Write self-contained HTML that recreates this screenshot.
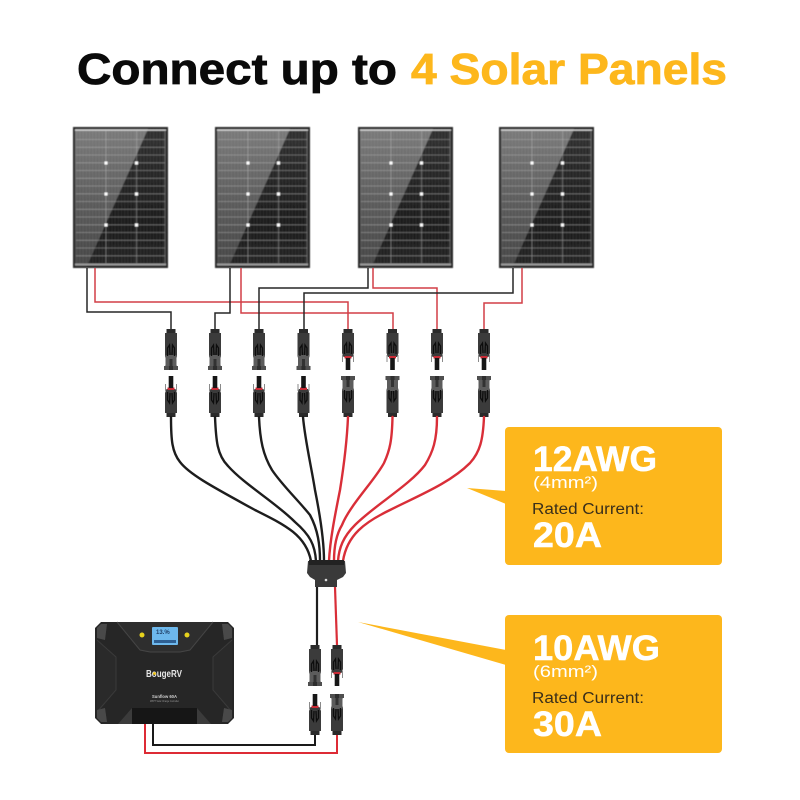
<!DOCTYPE html>
<html>
<head>
<meta charset="utf-8">
<title>Connect up to 4 Solar Panels</title>
<style>
html,body{margin:0;padding:0;background:#fff;}
svg{display:block;}
text{font-family:"Liberation Sans",sans-serif;}
</style>
</head>
<body>
<svg width="800" height="800" viewBox="0 0 800 800" xmlns="http://www.w3.org/2000/svg">
<defs>
  <filter id="soft" x="-5%" y="-5%" width="110%" height="110%"><feGaussianBlur stdDeviation=".45"/></filter>
  <filter id="soft2" x="-20%" y="-5%" width="140%" height="110%"><feGaussianBlur stdDeviation=".35"/></filter>
  <linearGradient id="lite" x1="0" y1="0" x2="0" y2="1">
    <stop offset="0" stop-color="#7a7a7a"/><stop offset=".55" stop-color="#5a5a5a"/><stop offset="1" stop-color="#454545"/>
  </linearGradient>
  <linearGradient id="dark" x1="0" y1="0" x2="0" y2="1">
    <stop offset="0" stop-color="#303030"/><stop offset=".7" stop-color="#1b1b1b"/><stop offset="1" stop-color="#242424"/>
  </linearGradient>
  <pattern id="fine" width="3.200" height="8" patternUnits="userSpaceOnUse">
    <rect x="0" width="1" height="8" fill="#fff" fill-opacity=".07"/>
  </pattern>
  <g id="panel">
    <rect x="0" y="0" width="95" height="141" fill="#2a2a2a"/>
    <rect x="2" y="2" width="91" height="137" fill="url(#dark)"/>
    <polygon points="2,2 75,2 14,139 2,139" fill="url(#lite)"/>
    <rect x="2" y="2" width="91" height="137" fill="url(#fine)"/>
    <g stroke="#bdbdbd" stroke-opacity=".5" stroke-width=".8">
      <path d="M3 12.500H92M3 20.300H92M3 28H92M3 35.800H92M3 43.500H92M3 51.300H92M3 59H92M3 66.800H92M3 74.500H92M3 82.300H92M3 90H92M3 97.800H92M3 105.500H92M3 113.300H92M3 121H92M3 128.800H92"/>
      <path d="M33 4V137M63.500 4V137M92 4V137"/>
    </g>
    <rect x="2" y="2.500" width="91" height="1.300" fill="#d5d5d5"/>
    <rect x="2" y="136.500" width="91" height="2" fill="#9a9a9a"/>
    <g fill="#fff">
      <rect x="31.500" y="34.500" width="3" height="3"/><rect x="62" y="34.500" width="3" height="3"/>
      <rect x="31.500" y="65.500" width="3" height="3"/><rect x="62" y="65.500" width="3" height="3"/>
      <rect x="31.500" y="96.500" width="3" height="3"/><rect x="62" y="96.500" width="3" height="3"/>
    </g>
  </g>
  <g id="connF" filter="url(#soft2)">
    <rect x="-4.500" y="0" width="9" height="5" fill="#2c2c2c"/>
    <path d="M-6 4H6V27L5 31V36L7 38V41H-7V38L-5 36V31L-6 27Z" fill="#3a3a3a"/>
    <path d="M-5.500 26H5.500V37H-5.500Z" fill="#5c5c5c"/>
    <path d="M-3.500 27V19L-1.500 16L-1 26M3.500 27V19L1.500 16L1 26" stroke="#111" stroke-width="1.300" fill="none"/>
    <path d="M-1.500 30V37H1.500V30Z" fill="#333"/>
    <rect x="-7" y="37" width="14" height="4" fill="#505050"/>
    <path d="M-2 37H2V41H-2Z" fill="#2f2f2f"/>
  </g>
  <g id="connM" filter="url(#soft2)">
    <rect x="-4.500" y="0" width="9" height="5" fill="#2c2c2c"/>
    <path d="M-6 4H6V24L4.500 28H-4.500L-6 24Z" fill="#3a3a3a"/>
    <path d="M-3.500 25V17L-1.500 14L-1 24M3.500 25V17L1.500 14L1 24" stroke="#111" stroke-width="1.300" fill="none"/>
    <rect x="-3.500" y="27" width="7" height="2.500" fill="#c92a36"/>
    <rect x="-2.300" y="29" width="4.600" height="12" fill="#151515"/>
    <path d="M-5.500 26V33M5.500 26V33" stroke="#8a8a8a" stroke-width="1"/>
  </g>
</defs>

<rect width="800" height="800" fill="#fff"/>

<!-- Title -->
<text x="77" y="84" font-size="44" font-weight="700" fill="#0a0a0a" stroke="#0a0a0a" stroke-width=".8" textLength="320" lengthAdjust="spacingAndGlyphs">Connect up to</text>
<text x="411" y="84" font-size="44" font-weight="700" fill="#fdb71c" stroke="#fdb71c" stroke-width=".8" textLength="316" lengthAdjust="spacingAndGlyphs">4 Solar Panels</text>

<!-- Panels -->
<g filter="url(#soft)">
<use href="#panel" x="73" y="127"/>
<use href="#panel" x="215" y="127"/>
<use href="#panel" x="358" y="127"/>
<use href="#panel" x="499" y="127"/>
</g>

<!-- Thin panel wires -->
<g fill="none" stroke-width="1.500">
  <g stroke="#d23f47">
    <path d="M95 268V302H348V329"/>
    <path d="M241 268V313H393V329"/>
    <path d="M373 268V288H437V329"/>
    <path d="M522 268V303H484V329"/>
  </g>
  <g stroke="#262626">
    <path d="M87 268V312H171V329"/>
    <path d="M230 268V313H215V329"/>
    <path d="M368 268V288H259V329"/>
    <path d="M513 268V293H304V329"/>
  </g>
</g>

<!-- Connectors top row -->
<use href="#connF" x="171" y="329"/>
<use href="#connF" x="215" y="329"/>
<use href="#connF" x="259" y="329"/>
<use href="#connF" x="303.500" y="329"/>
<use href="#connM" x="348" y="329"/>
<use href="#connM" x="392.500" y="329"/>
<use href="#connM" x="437" y="329"/>
<use href="#connM" x="484" y="329"/>

<!-- Connectors lower row (flipped) -->
<g transform="translate(0,795) scale(1,-1)">
  <use href="#connM" x="171" y="378"/>
  <use href="#connM" x="215" y="378"/>
  <use href="#connM" x="259" y="378"/>
  <use href="#connM" x="303.500" y="378"/>
  <use href="#connF" x="348" y="378"/>
  <use href="#connF" x="392.500" y="378"/>
  <use href="#connF" x="437" y="378"/>
  <use href="#connF" x="484" y="378"/>
</g>

<!-- Harness wires -->
<g fill="none" stroke-width="2.400" stroke-linecap="round">
  <g stroke="#1d1d1d">
    <path d="M171 417C171 440 172 452 180 462C190 475 215 488 255 510C285 525 306 535 311 561"/>
    <path d="M215 417C216 440 217 455 228 466C245 485 275 502 295 522C310 535 315 545 316 561"/>
    <path d="M259 417C260 440 263 455 272 470C282 485 298 500 310 515C318 530 320 545 320 561"/>
    <path d="M303 417C305 440 311 465 315 490C320 515 324 540 324 561"/>
  </g>
  <g stroke="#d92e38">
    <path d="M348 417C347 440 344 465 340 490C335 515 330 540 329 561"/>
    <path d="M392.500 417C392 440 390 450 384 463C375 480 350 505 342 525C336 535 334 548 334 561"/>
    <path d="M437 417C437 440 433 452 425 465C410 485 375 505 355 525C343 537 339 548 338 561"/>
    <path d="M484 417C483 440 480 452 470 463C450 483 420 495 390 510C365 522 347 535 343 561"/>
  </g>
</g>

<!-- Hub -->
<path d="M308 561H345L346 573L343 577L337 580V587H315V580L310 577L307 573Z" fill="#3a3a3a"/>
<rect x="309" y="560" width="35" height="5" fill="#222"/>
<circle cx="326" cy="580" r="1.300" fill="#ddd"/>

<!-- Main wires -->
<path d="M317 587V645" stroke="#1d1d1d" stroke-width="2.200" fill="none"/>
<path d="M335 587L337 645" stroke="#d92e38" stroke-width="2.200" fill="none"/>

<use href="#connF" x="315" y="645"/>
<use href="#connM" x="337" y="645"/>
<g transform="translate(0,1431) scale(1,-1)">
  <use href="#connM" x="315" y="696"/>
  <use href="#connF" x="337" y="696"/>
</g>

<!-- Controller wires -->
<path d="M337 735V753H145V724" stroke="#dd2b35" stroke-width="2" fill="none"/>
<path d="M315 735V745H153V724" stroke="#1a1a1a" stroke-width="2" fill="none"/>

<!-- Controller -->
<g filter="url(#soft2)">
<path d="M101 622H228L234 628V718L228 724H101L95 718V628Z" fill="#262626"/>
<path d="M117 622L140 650L150 652H180L190 650L213 622" fill="#2e2e2e" stroke="#454545" stroke-width="1"/>
<path d="M97 640L116 657V690L97 712M232 640L213 657V690L232 712" fill="#2b2b2b" stroke="#3a3a3a" stroke-width="1"/>
<path d="M97 628L101 624H107L105 640L97 638ZM232 628L228 624H222L224 640L232 638ZM97 718L101 722H107L105 708L97 710ZM232 718L228 722H222L224 708L232 710Z" fill="#4a4a4a"/>
<path d="M118 724L132 708H197L211 724Z" fill="#3a3a3a"/>
<rect x="132" y="708" width="65" height="16" fill="#181818"/>
<rect x="152" y="627" width="26" height="18" rx="1" fill="#6db8ec"/>
<rect x="154" y="640" width="22" height="3" fill="#2e5f92"/>
<circle cx="142" cy="635" r="2.500" fill="#e6d21f"/>
<circle cx="187" cy="635" r="2.500" fill="#e6d21f"/>
</g>
<text x="156" y="634" font-size="6" font-weight="700" fill="#1f3f66">13.%</text>
<text x="146" y="677" font-size="10" font-weight="700" fill="#e6e6e6" textLength="36" lengthAdjust="spacingAndGlyphs">BougeRV</text>
<circle cx="154.500" cy="673.500" r="1.400" fill="#f1c40f"/>
<text x="152" y="698" font-size="4.500" font-weight="700" fill="#cfcfcf" textLength="25" lengthAdjust="spacingAndGlyphs">Sunflow 60A</text>
<text x="150" y="702" font-size="2.800" fill="#999" textLength="29" lengthAdjust="spacingAndGlyphs">MPPT Solar Charge Controller</text>

<!-- Callout 1 -->
<rect x="505" y="427" width="217" height="138" rx="4" fill="#fdb71c"/>
<polygon points="467,488 506,491 506,504" fill="#fdb71c"/>
<text x="533" y="471" font-size="35" font-weight="700" fill="#fff" stroke="#fff" stroke-width=".5" textLength="124" lengthAdjust="spacingAndGlyphs">12AWG</text>
<text x="533" y="488" font-size="17" fill="#fff" textLength="65" lengthAdjust="spacingAndGlyphs">(4mm²)</text>
<text x="532" y="514" font-size="15.500" fill="#3a2f1a" textLength="112" lengthAdjust="spacingAndGlyphs">Rated Current:</text>
<text x="533" y="547" font-size="35" font-weight="700" fill="#fff" stroke="#fff" stroke-width=".5" textLength="69" lengthAdjust="spacingAndGlyphs">20A</text>

<!-- Callout 2 -->
<rect x="505" y="615" width="217" height="138" rx="4" fill="#fdb71c"/>
<polygon points="358,622 506,650 506,665" fill="#fdb71c"/>
<text x="533" y="660" font-size="35" font-weight="700" fill="#fff" stroke="#fff" stroke-width=".5" textLength="127" lengthAdjust="spacingAndGlyphs">10AWG</text>
<text x="533" y="677" font-size="17" fill="#fff" textLength="65" lengthAdjust="spacingAndGlyphs">(6mm²)</text>
<text x="532" y="703" font-size="15.500" fill="#3a2f1a" textLength="112" lengthAdjust="spacingAndGlyphs">Rated Current:</text>
<text x="533" y="736" font-size="35" font-weight="700" fill="#fff" stroke="#fff" stroke-width=".5" textLength="69" lengthAdjust="spacingAndGlyphs">30A</text>
</svg>
</body>
</html>
